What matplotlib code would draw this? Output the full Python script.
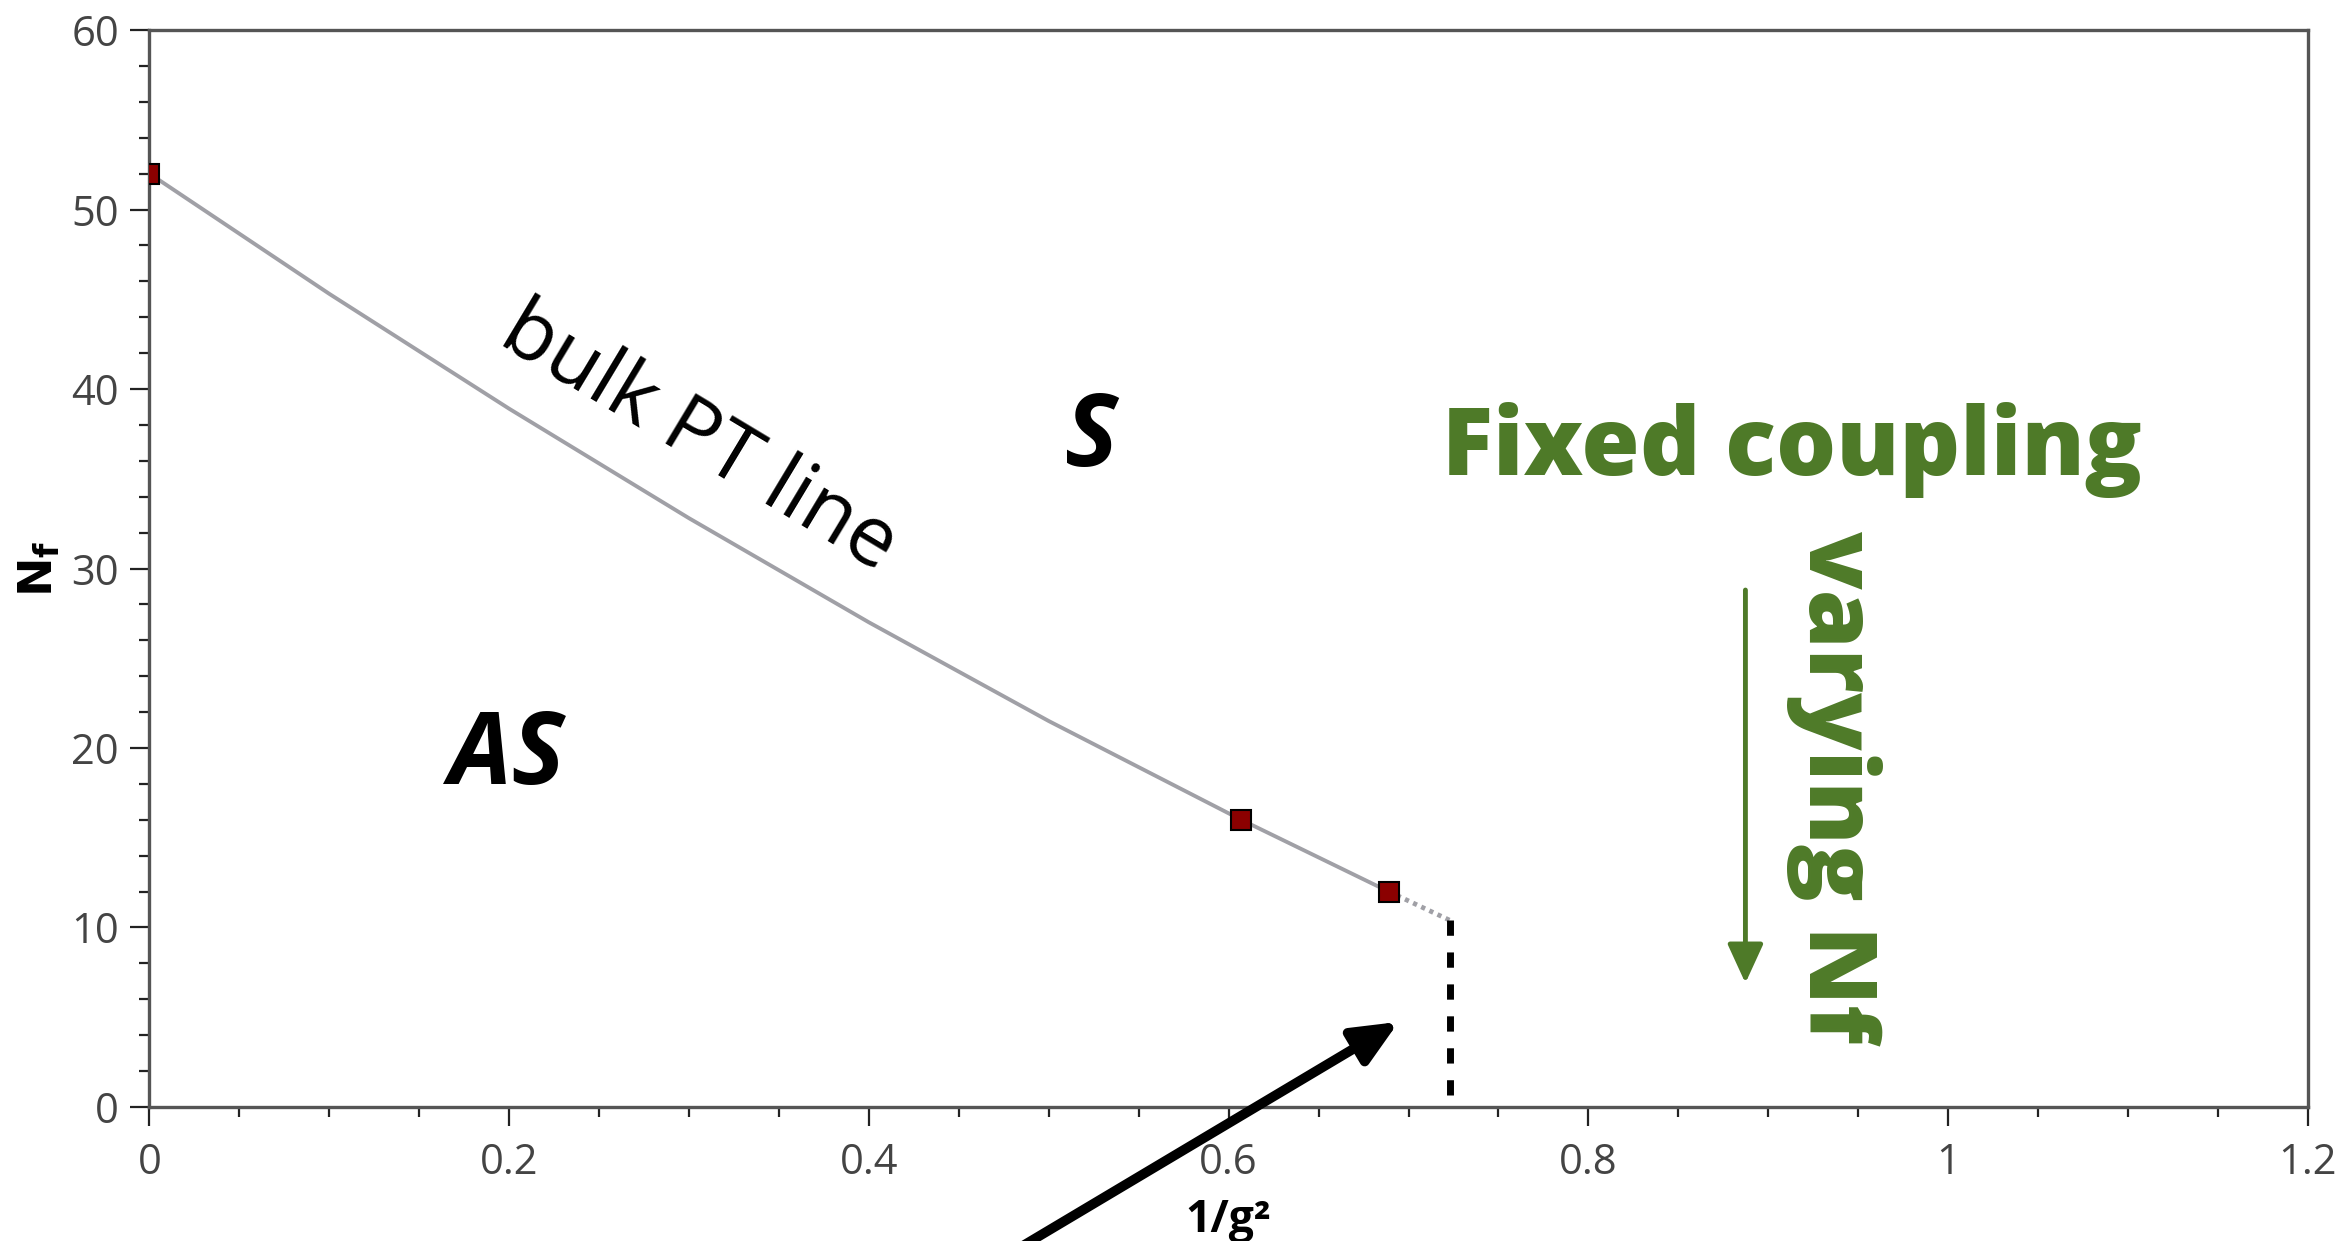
import matplotlib
matplotlib.use("Agg")
import matplotlib.pyplot as plt
from matplotlib.ticker import MultipleLocator, FuncFormatter

# ---- data ----
pt_x = [0.0, 0.607, 0.689]          # measured bulk PT points (1/g^2)
pt_y = [52.0, 16.0, 12.0]           # Nf
line_x = [0.0, 0.1, 0.2, 0.3, 0.4, 0.5, 0.607, 0.689]
line_y = [52.0, 45.3, 38.9, 32.8, 27.0, 21.5, 16.0, 12.0]
dot_x = [0.689, 0.723]
dot_y = [12.0, 10.4]
vert_x = [0.723, 0.723]
vert_y = [10.4, 0.6]

xlim = (0, 1.2)
ylim = (0, 60)

FONT = ["Open Sans", "DejaVu Sans"]
GREEN = "#4e7a28"

fig = plt.figure(figsize=(23.43, 12.41), dpi=100)
ax = fig.add_axes([0.0638, 0.108, 0.9212, 0.8678])

ax.plot(line_x, line_y, color="#a0a0a6", lw=2.8, zorder=2)
ax.plot(dot_x, dot_y, color="#a0a0a6", lw=3.4, ls=(0, (0.9, 1.0)), zorder=2)
ax.plot(vert_x, vert_y, color="black", lw=5, ls=(0, (2.2, 2.4)), zorder=2)
ax.plot(pt_x, pt_y, ls="none", marker="s", ms=14.5, mfc="#8b0000", mec="black",
        mew=1.5, zorder=3, clip_on=True)

ax.set_xlim(*xlim)
ax.set_ylim(*ylim)
ax.xaxis.set_major_locator(MultipleLocator(0.2))
ax.xaxis.set_minor_locator(MultipleLocator(0.05))
ax.yaxis.set_major_locator(MultipleLocator(10))
ax.yaxis.set_minor_locator(MultipleLocator(2))
ax.xaxis.set_major_formatter(FuncFormatter(lambda v, p: f"{v:g}"))
ax.yaxis.set_major_formatter(FuncFormatter(lambda v, p: f"{v:g}"))

for s in ax.spines.values():
    s.set_color("#555555")
    s.set_linewidth(2.4)
ax.tick_params(which="major", length=14, width=1.6, color="#222222",
               labelsize=30, labelcolor="#444444")
ax.tick_params(axis="x", which="major", pad=11)
ax.tick_params(axis="y", which="major", pad=8)
ax.tick_params(which="minor", length=7, width=1.6, color="#222222")
for lab in ax.get_xticklabels() + ax.get_yticklabels():
    lab.set_family(FONT)

ax.set_xlabel("1/g²", family=FONT, fontsize=32, fontweight="bold", labelpad=10)
ax.set_ylabel(r"$\mathbf{N_f}$", fontsize=34, labelpad=6)

# region labels
ax.text(0.3054, 37.2, "bulk PT line", family=FONT, fontsize=60, rotation=-31,
        ha="center", va="center", rotation_mode="anchor")
ax.text(0.5238, 35.7, "S", family=FONT, fontsize=72, fontweight="bold",
        style="italic", ha="center", va="baseline")
ax.text(0.1987, 18.0, "AS", family=FONT, fontsize=72, fontweight="bold",
        style="italic", ha="center", va="baseline")

ax.text(0.9134, 35.2, "Fixed coupling", family=FONT, fontsize=68,
        fontweight="heavy", color=GREEN, ha="center", va="baseline")
ax.text(0.9367, 17.8, "varying Nf", family=FONT, fontsize=68,
        fontweight="heavy", color=GREEN, rotation=-90, ha="center", va="center")

ax.annotate("", xy=(0.8873, 6.9), xytext=(0.8873, 28.8),
            arrowprops=dict(arrowstyle="-|>,head_length=2.4,head_width=1.1",
                            color=GREEN, lw=3.5, shrinkA=0, shrinkB=0))
ax.annotate("", xy=(0.6945, 4.74), xytext=(0.45, -9.86),
            annotation_clip=False,
            arrowprops=dict(arrowstyle="-|>,head_length=2.7,head_width=1.2",
                            color="black", lw=7, shrinkA=0, shrinkB=0))

fig.savefig("out.png", dpi=100)
